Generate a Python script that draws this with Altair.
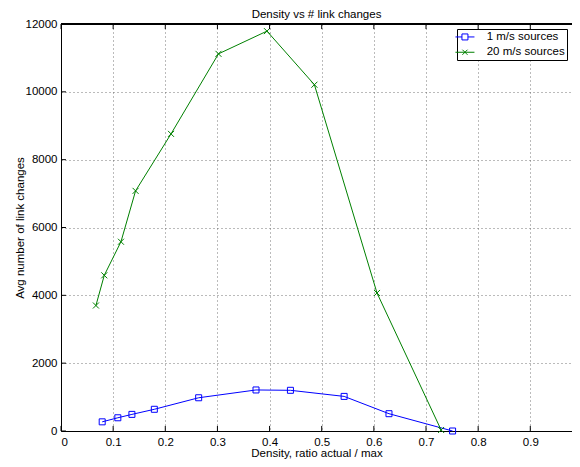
import altair as alt
import pandas as pd

# ---- data ----
series_names = ["1 m/s sources", "20 m/s sources"]
density_1 = [0.079, 0.109, 0.136, 0.179, 0.264, 0.374, 0.440, 0.543, 0.629, 0.751]
changes_1 = [270, 390, 490, 640, 980, 1210, 1200, 1020, 510, 0]
density_20 = [0.067, 0.083, 0.115, 0.143, 0.211, 0.302, 0.395, 0.486, 0.606, 0.729]
changes_20 = [3700, 4590, 5580, 7080, 8760, 11120, 11790, 10210, 4070, 30]
x_ticks = [0, 0.1, 0.2, 0.3, 0.4, 0.5, 0.6, 0.7, 0.8, 0.9]
y_ticks = [0, 2000, 4000, 6000, 8000, 10000, 12000]
colors = ["#0000ff", "#008000"]

rows = []
for name, xs, ys in [(series_names[0], density_1, changes_1),
                     (series_names[1], density_20, changes_20)]:
    for i, (x, y) in enumerate(zip(xs, ys)):
        rows.append({"series": name, "density": x, "changes": y, "order": i})
df = pd.DataFrame(rows)
xt = pd.DataFrame({"v": x_ticks})
yt = pd.DataFrame({"v": y_ticks})

FONT = "Liberation Sans"
W, H = 511, 407
XMAX = 0.98

xscale = alt.Scale(domain=[0, XMAX], nice=False, zero=False)
yscale = alt.Scale(domain=[0, 12000], nice=False)
cscale = alt.Scale(domain=series_names, range=colors)

xpath = "M-1,-1L1,1M-1,1L1,-1"
leg_sq = "M-4.4,0L-4.4,0M-3.17,0H-1M1,0H3.17M-1,-1H1V1H-1Z"
leg_x = "M-4.4,0L-4.4,0M-3.17,0H3.17M-0.85,-0.85L0.85,0.85M-0.85,0.85L0.85,-0.85"

X = alt.X("density:Q", scale=xscale,
          axis=alt.Axis(values=x_ticks, format="~g", title="Density, ratio actual / max",
                        grid=True, ticks=False, domain=True, domainColor="black",
                        labelPadding=5, titleY=25.5, titleBaseline="alphabetic"))
Y = alt.Y("changes:Q", scale=yscale,
          axis=alt.Axis(values=y_ticks, format="d", title="Avg number of link changes",
                        grid=True, ticks=False, domain=True, domainColor="black",
                        labelPadding=4, titlePadding=0))

base = alt.Chart(df)

lines = base.mark_line(strokeWidth=1).encode(
    x=X, y=Y,
    color=alt.Color("series:N", scale=cscale, legend=None),
    detail="series:N",
    order="order:Q",
)

points = base.mark_point(filled=False, strokeWidth=1, size=36, opacity=1).encode(
    x="density:Q", y="changes:Q",
    color=alt.Color("series:N", scale=cscale, legend=None),
    shape=alt.Shape("series:N", scale=alt.Scale(domain=series_names, range=["square", xpath]),
                    legend=None),
)

leg_props = dict(title=None, orient="none", legendX=396, legendY=5,
                 strokeColor="black", fillColor="white", padding=2.2,
                 symbolSize=36, symbolStrokeWidth=1, labelFontSize=11.5,
                 labelOffset=16, labelFont=FONT, labelColor="black", rowPadding=2.3,
                 labelExpr="datum.label + '\u00a0\u00a0'")

legend_layer = base.mark_point(filled=False, strokeWidth=1, opacity=1).encode(
    x="density:Q", y="changes:Q",
    color=alt.Color("series:N", scale=cscale, legend=alt.Legend(**leg_props)),
    shape=alt.Shape("series:N", scale=alt.Scale(domain=series_names, range=[leg_sq, leg_x]),
                    legend=alt.Legend(**leg_props)),
).transform_filter("datum.changes < -1")

tick_bottom = alt.Chart(xt).mark_rule(color="black", strokeWidth=1).encode(
    x="v:Q", y=alt.datum(0), y2=alt.datum(150))
tick_top = alt.Chart(xt).mark_rule(color="black", strokeWidth=1).encode(
    x="v:Q", y=alt.datum(12000), y2=alt.datum(11850))
tick_left = alt.Chart(yt).mark_rule(color="black", strokeWidth=1).encode(
    y="v:Q", x=alt.datum(0), x2=alt.datum(0.0095))
top_border = alt.Chart(xt).mark_rule(color="black", strokeWidth=1).encode(
    y=alt.datum(12000), x=alt.datum(0), x2=alt.datum(XMAX))

chart = alt.layer(
    lines, points, legend_layer, tick_bottom, tick_top, tick_left, top_border
).resolve_scale(
    color="independent", shape="independent"
).properties(
    width=W, height=H,
    autosize=alt.AutoSizeParams(type="none"),
    padding={"left": 53, "top": 16, "right": 0, "bottom": 28},
    title=alt.TitleParams("Density vs # link changes", fontSize=11.5, fontWeight="normal",
                          font=FONT, color="black", anchor="middle", offset=0, dy=2),
).configure(
    font=FONT,
).configure_view(
    stroke=None,
).configure_axis(
    labelFont=FONT, titleFont=FONT, labelFontSize=11.5, titleFontSize=11.5,
    titleFontWeight="normal", labelColor="black", titleColor="black",
    gridColor="#555555", gridDash=[1, 3], gridWidth=1, gridOpacity=0.8,
)

chart.save("out.html", embed_options={"renderer": "svg", "actions": False})
